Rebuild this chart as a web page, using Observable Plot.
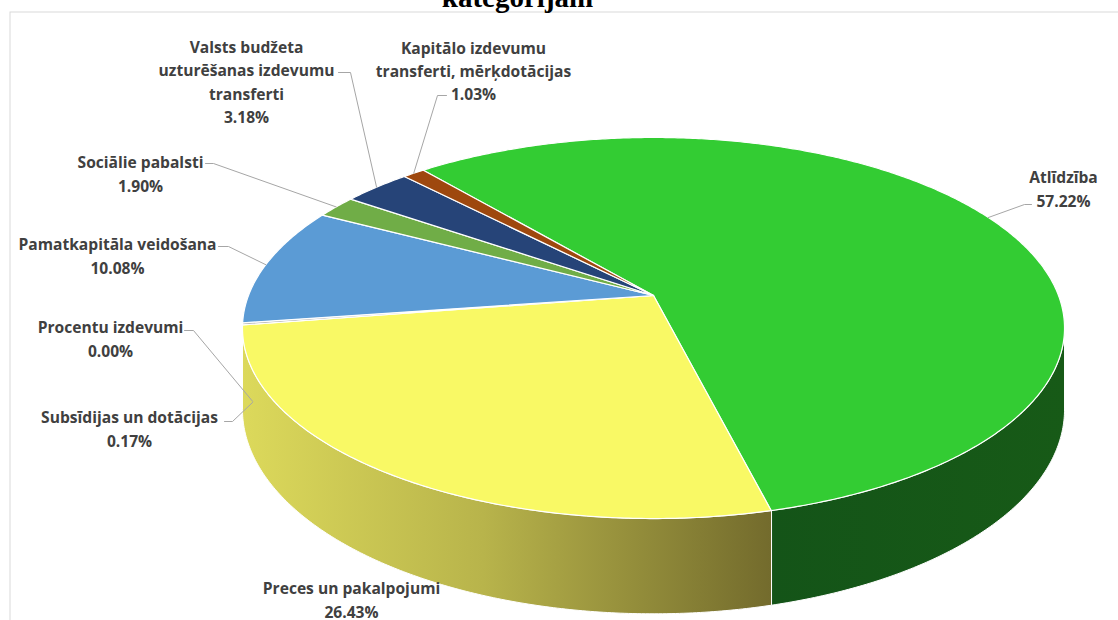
<!DOCTYPE html>
<html>
<head>
<meta charset="utf-8">
<script src="https://cdn.jsdelivr.net/npm/d3@7"></script>
<script src="https://cdn.jsdelivr.net/npm/@observablehq/plot@0.6"></script>
<style>
  html, body { margin: 0; padding: 0; background: #fff; overflow: hidden; }
  #chart svg { display: block; }
</style>
</head>
<body>
<div id="chart"></div>
<script>
// ---- data ----
const categories = [
  "Atlīdzība",
  "Preces un pakalpojumi",
  "Subsīdijas un dotācijas",
  "Procentu izdevumi",
  "Pamatkapitāla veidošana",
  "Sociālie pabalsti",
  "Valsts budžeta uzturēšanas izdevumu transferti",
  "Kapitālo izdevumu transferti, mērķdotācijas"
];
const values = [57.22, 26.43, 0.17, 0.00, 10.08, 1.90, 3.18, 1.03];
const labelLines = [
  ["Atlīdzība"],
  ["Preces un pakalpojumi"],
  ["Subsīdijas un dotācijas"],
  ["Procentu izdevumi"],
  ["Pamatkapitāla veidošana"],
  ["Sociālie pabalsti"],
  ["Valsts budžeta", "uzturēšanas izdevumu", "transferti"],
  ["Kapitālo izdevumu", "transferti, mērķdotācijas"]
];
const titleText = "kategorijām";

// ---- style / layout ----
const topColors = ["#33CC33", "#F9F965", "#A5A5A5", "#FFC000", "#5B9BD5", "#70AD47", "#264478", "#9E480E"];
const W = 1118, H = 620;
const firstAngle = -40;           // degrees, clockwise from 12 o'clock
const CX = 653, CY = 295, RX = 405, RY = 185, K = -0.1706, DEPTH = 79;
// label block centers
const labelPos = [
  [1063, 187], [351, 598], [129, 427], [110, 337],
  [117, 254], [140, 172], [246, 80], [473, 69]
];
// leader elbows (text end -> elbow); last point computed from slice
const leaderElbows = [
  [[1031, 204], [1024, 204]],
  null,
  [[224, 421], [232, 421]],
  [[184, 330], [193, 330]],
  [[218, 246], [228, 246]],
  [[205, 163], [213, 163]],
  [[338, 72], [350, 72]],
  [[446, 95], [437, 95]]
];

// ---- projection of the tilted disk ----
function proj(deg, drop = 0) {
  const t = deg * Math.PI / 180;
  const u = Math.sin(t), v = -Math.cos(t);
  const w = 1 + K * v;
  return {x: CX + RX * u / w, y: CY + RY * v / w + drop / w};
}

const total = d3.sum(values);
let acc = firstAngle;
const slices = values.map((v, i) => {
  const a0 = acc, a1 = acc + v / total * 360;
  acc = a1;
  return {i, a0, a1, mid: (a0 + a1) / 2};
});

function arc(a0, a1, drop = 0) {
  const n = Math.max(2, Math.ceil((a1 - a0) / 0.5));
  return d3.range(n + 1).map(j => proj(a0 + (a1 - a0) * j / n, drop));
}

// top faces
const topPts = [];
slices.forEach(s => {
  if (s.a1 - s.a0 < 0.01) return;
  const pts = [{x: CX, y: CY}, ...arc(s.a0, s.a1)];
  pts.forEach(p => topPts.push({...p, id: s.i, color: topColors[s.i]}));
});

// visible side range
const visA = Math.acos(K) * 180 / Math.PI;   // ~99.8
const visB = 360 - visA;                     // ~260.2
function sidePoly(s) {
  const a0 = Math.max(s.a0, visA), a1 = Math.min(s.a1, visB);
  if (a1 <= a0) return [];
  const topArc = arc(a0, a1), botArc = arc(a0, a1, DEPTH).reverse();
  return [...topArc, ...botArc];
}
const greenSide = sidePoly(slices[0]);
const yellowSide = sidePoly(slices[1]);

// labels
const labels = slices.map(s => ({
  x: labelPos[s.i][0], y: labelPos[s.i][1],
  text: [...labelLines[s.i], values[s.i].toFixed(2) + "%"].join("\n")
}));

// leaders
const leaderPts = [];
slices.forEach(s => {
  const el = leaderElbows[s.i];
  if (!el) return;
  const onSide = s.mid > visB && s.mid < 270;
  const end = onSide ? proj(s.mid, DEPTH * 0.97) : proj(s.mid);
  if (onSide) end.x += 10;
  [...el.map(([x, y]) => ({x, y})), end].forEach(p => leaderPts.push({...p, id: s.i}));
});

const chart = Plot.plot({
  width: W, height: H,
  margin: 0,
  x: {domain: [0, W], range: [0, W], axis: null},
  y: {domain: [0, H], range: [0, H], axis: null},
  color: {type: "identity"},
  style: {background: "white", overflow: "hidden"},
  marks: [
    Plot.rect([{x1: 10, x2: W + 10, y1: 12, y2: H + 10}], {x1: "x1", x2: "x2", y1: "y1", y2: "y2", fill: "none", stroke: "#D9D9D9", strokeWidth: 1}),
    Plot.text([titleText], {x: 517, y: 6, text: d => d, lineAnchor: "bottom", fontFamily: "Liberation Serif", fontWeight: "bold", fontSize: 29, fill: "#000"}),
    Plot.line(greenSide, {x: "x", y: "y", curve: "linear-closed", fill: "url(#gside)", stroke: "white", strokeWidth: 1}),
    Plot.line(yellowSide, {x: "x", y: "y", curve: "linear-closed", fill: "url(#yside)", stroke: "white", strokeWidth: 1}),
    Plot.line(topPts, {x: "x", y: "y", z: "id", fill: "color", curve: "linear-closed", stroke: "white", strokeWidth: 1.2, strokeLinejoin: "round"}),
    Plot.line(leaderPts, {x: "x", y: "y", z: "id", stroke: "#A6A6A6", strokeWidth: 1}),
    Plot.text(labels, {x: "x", y: "y", text: "text", lineAnchor: "middle", lineHeight: 1.5, textAnchor: "middle", fontFamily: "'Open Sans', sans-serif", fontWeight: "bold", fontSize: 15.6, fill: "#404040"})
  ]
});

const defs = d3.select(chart).insert("defs", ":first-child");
const g1 = defs.append("linearGradient").attr("id", "gside").attr("gradientUnits", "userSpaceOnUse")
  .attr("x1", 770).attr("x2", 1065).attr("y1", 0).attr("y2", 0);
g1.append("stop").attr("offset", 0).attr("stop-color", "#145418");
g1.append("stop").attr("offset", 1).attr("stop-color", "#175A17");
const g2 = defs.append("linearGradient").attr("id", "yside").attr("gradientUnits", "userSpaceOnUse")
  .attr("x1", 242).attr("x2", 775).attr("y1", 0).attr("y2", 0);
g2.append("stop").attr("offset", 0).attr("stop-color", "#DCD95B");
g2.append("stop").attr("offset", 0.45).attr("stop-color", "#B8B44B");
g2.append("stop").attr("offset", 1).attr("stop-color", "#726A2C");

document.getElementById("chart").appendChild(chart);
</script>
</body>
</html>
